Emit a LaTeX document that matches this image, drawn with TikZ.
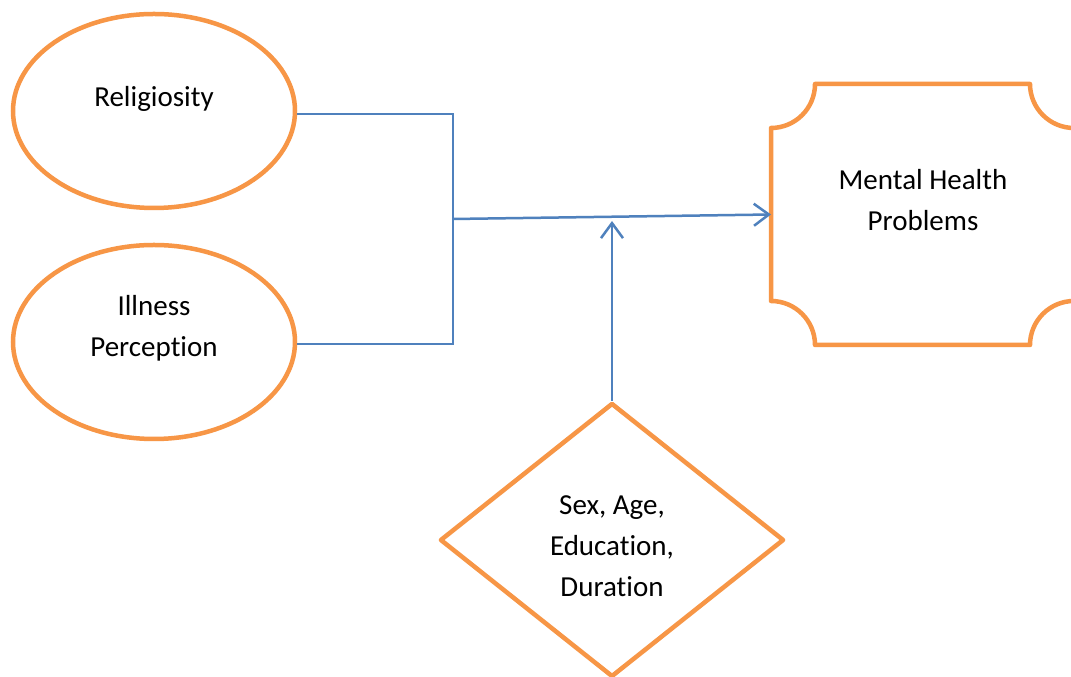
\documentclass[tikz,border=0pt]{standalone}
\usepackage{fontspec}
\setmainfont{Carlito}[Ligatures=NoCommon]
\usetikzlibrary{shapes.geometric,arrows.meta,calc}
\definecolor{org}{HTML}{F79646}
\definecolor{blu}{HTML}{4F81BD}
\begin{document}
\begin{tikzpicture}[x=1pt,y=1pt,
  txt/.style={font=\fontsize{29}{41}\selectfont, align=center, text=black, inner sep=0pt},
  oval/.style={ellipse, draw=org, line width=4.5pt, minimum width=282pt, minimum height=194pt, inner sep=0pt},
  orgline/.style={draw=org, line width=4.5pt, line join=round},
  link/.style={draw=blu, line width=2pt},
  mainarrow/.style={draw=blu, line width=2.5pt, -{Straight Barb[length=15pt,width=22pt]}},
]
\useasboundingbox (0,0) rectangle (1071,677);
\fill[white] (0,0) rectangle (1071,677);
% ellipses
\node[oval] (rel) at (154,566) {};
\node[txt] (relt) at (154,578) {Religiosity};
\node[oval] (ill) at (154,335) {};
\node[txt] (illt) at (154,349) {Illness\\Perception};
% mental health box (concave corners)
\node[minimum width=303pt, minimum height=261pt, inner sep=0pt, outer sep=0pt] (mhp) at (922.5,462.5) {};
\draw[orgline] (815,593) -- (1030,593) arc[start angle=180,end angle=270,radius=44]
  -- (1074,376) arc[start angle=90,end angle=180,radius=44]
  -- (815,332) arc[start angle=0,end angle=90,radius=44]
  -- (771,549) arc[start angle=270,end angle=360,radius=44] -- cycle;
\node[txt] (mhpt) at (923,477) {Mental Health\\Problems};
% diamond
\node[diamond, orgline, minimum width=344pt, minimum height=274pt, inner sep=0pt] (d) at (612,137) {};
\node[txt] (dt) at (612,131) {Sex, Age,\\Education,\\Duration};
% connectors
\coordinate (j) at (453,458);
\coordinate (r) at ($(rel.east)+(0,-3)$);
\coordinate (i) at ($(ill.east)+(0,-2)$);
\draw[link] (r) -- (r -| j) -- (i -| j) -- (i);
\draw[mainarrow] (j) -- (mhp.west);
\draw[mainarrow] (d.north) -- ($(d.north |- j)+(0,-2)$);
\end{tikzpicture}
\end{document}
